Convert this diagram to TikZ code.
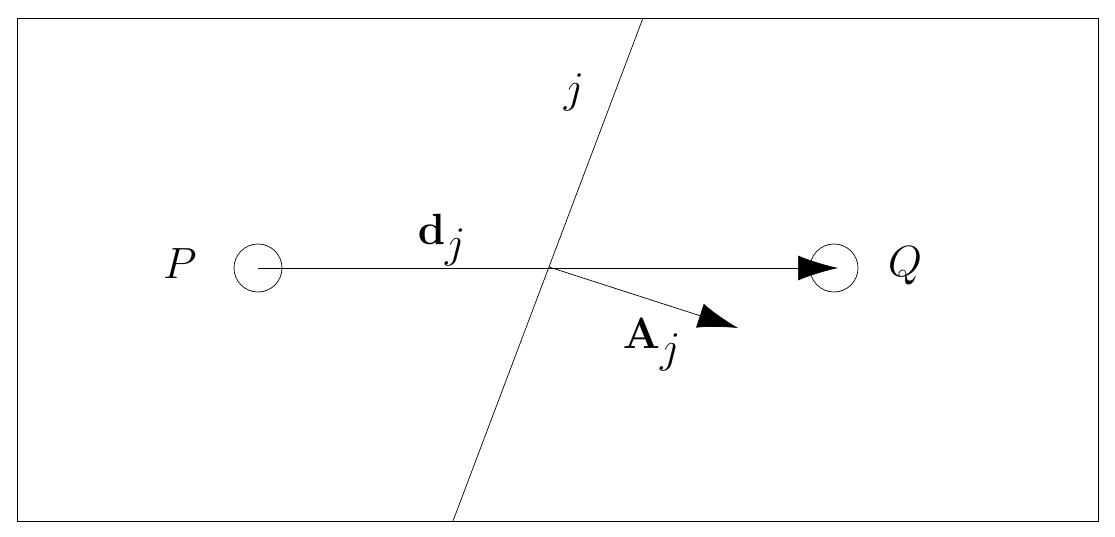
\documentclass[tikz,border=0pt]{standalone}
\usetikzlibrary{arrows.meta}
\tikzset{
  big/.style={-{Latex[length=8mm,width=5mm]}},
  pt/.style={circle, draw, minimum size=9.6mm, inner sep=0pt},
  lbl/.style={font=\fontsize{40}{40}\selectfont}
}
\begin{document}
\begin{tikzpicture}[x=0.02cm, y=-0.02cm]
    \useasboundingbox (0,0) rectangle (1115,537);
    \draw (17,18) rectangle (1098,521);

    \coordinate (top) at (643,18);
    \coordinate (bot) at (453,521);
    \draw (top) -- (bot);
    \coordinate (X) at (549,267);

    \node[pt] (P) at (258,268) {};
    \node[pt] (Q) at (834,268) {};
    \coordinate (Pc) at (258,268);
    \coordinate (Qt) at (838,268);
    \coordinate (At) at (738,328);

    \draw[big] (Pc) -- (Qt);
    \draw[big] (X) -- (At);

    \node[lbl] (lP) at (180,264) {$P$};
    \node[lbl] (lQ) at (905,266) {$Q$};
    \node[lbl] (ld) at (442,240) {$\mathbf{d}_j$};
    \node[lbl] (lj) at (574,92) {$j$};
    \node[lbl] (lA) at (652,345) {$\mathbf{A}_j$};
\end{tikzpicture}
\end{document}
